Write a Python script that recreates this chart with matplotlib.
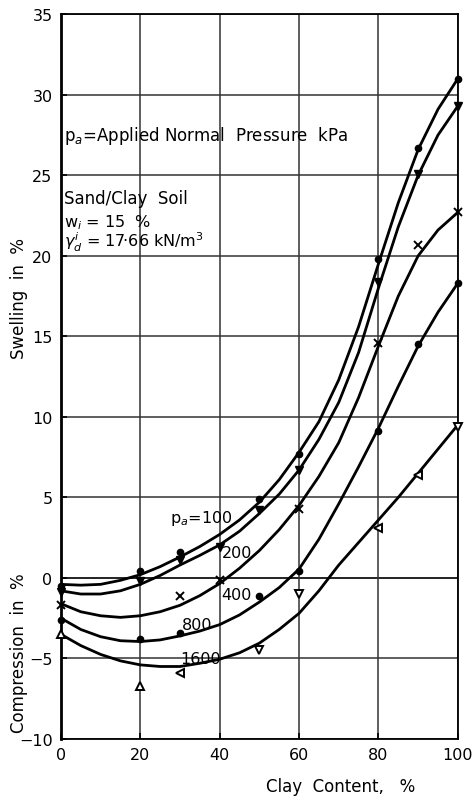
import matplotlib
matplotlib.use("Agg")
import matplotlib.pyplot as plt
from matplotlib.patches import Rectangle

# curve traces (clay content every 5 %)
clay_curve = [0, 5, 10, 15, 20, 25, 30, 35, 40, 45, 50,
              55, 60, 65, 70, 75, 80, 85, 90, 95, 100]
curve_100 = [-0.4, -0.45, -0.4, -0.15, 0.2, 0.7, 1.3, 1.95, 2.7, 3.6, 4.7,
             6.1, 7.8, 9.7, 12.3, 15.6, 19.5, 23.3, 26.6, 29.1, 31.0]
curve_200 = [-0.8, -1.0, -1.0, -0.8, -0.4, 0.15, 0.8, 1.4, 2.05, 2.9, 4.0,
             5.2, 6.7, 8.6, 10.9, 14.0, 18.0, 21.8, 25.0, 27.5, 29.3]
curve_400 = [-1.6, -2.1, -2.35, -2.45, -2.35, -2.1, -1.7, -1.1, -0.35, 0.6, 1.7,
             3.0, 4.5, 6.3, 8.4, 11.2, 14.4, 17.5, 20.0, 21.6, 22.7]
curve_800 = [-2.5, -3.2, -3.65, -3.9, -3.95, -3.85, -3.6, -3.3, -2.9, -2.3, -1.5,
             -0.6, 0.55, 2.4, 4.6, 6.9, 9.3, 11.9, 14.4, 16.5, 18.3]
curve_1600 = [-3.5, -4.2, -4.75, -5.15, -5.4, -5.5, -5.5, -5.3, -5.05, -4.65, -4.05,
              -3.2, -2.2, -0.8, 0.8, 2.2, 3.6, 5.0, 6.5, 8.0, 9.5]

# measured points
x_100 = [0, 20, 30, 50, 60, 80, 90, 100]
y_100 = [-0.5, 0.4, 1.6, 4.9, 7.7, 19.8, 26.7, 31.0]
x_200 = [0, 20, 30, 40, 50, 60, 80, 90, 100]
y_200 = [-0.9, -0.2, 1.1, 1.9, 4.2, 6.7, 18.4, 25.1, 29.3]
x_400 = [0, 30, 40, 60, 80, 90, 100]
y_400 = [-1.7, -1.1, -0.1, 4.3, 14.6, 20.7, 22.7]
x_800 = [0, 20, 30, 50, 60, 80, 90, 100]
y_800 = [-2.6, -3.8, -3.4, -1.1, 0.4, 9.1, 14.5, 18.3]
x_1600 = [0, 20, 30, 50, 60, 80, 90, 100]
y_1600 = [-3.5, -6.7, -5.9, -4.5, -1.0, 3.1, 6.4, 9.4]
marks_1600 = ["^", "^", "<", "v", "v", "<", "<", "v"]

x_ticks = [0, 20, 40, 60, 80, 100]
y_ticks = [-10, -5, 0, 5, 10, 15, 20, 25, 30, 35]

plt.rcParams["font.family"] = "DejaVu Sans"

fig = plt.figure(figsize=(4.72, 8.03), dpi=100)
ax = fig.add_axes([0.129, 0.0785, 0.841, 0.9025])

ax.set_xlim(0, 100)
ax.set_ylim(-10, 35)
ax.set_xticks(x_ticks)
ax.set_yticks(y_ticks)
ax.tick_params(direction="in", length=4, width=1.2, labelsize=11.5, pad=6)
ax.grid(True, color="#333333", linewidth=1.1, zorder=0)
for s in ax.spines.values():
    s.set_linewidth(1.3)
ax.spines["left"].set_linewidth(2.0)
ax.axhline(0, color="black", linewidth=1.4, zorder=1)

# blank grid cells behind the notes
ax.add_patch(Rectangle((0.4, 25.25), 78.9, 4.5, facecolor="white",
                       edgecolor="none", zorder=1))
ax.add_patch(Rectangle((0.4, 20.25), 39.0, 4.5, facecolor="white",
                       edgecolor="none", zorder=1))

lw = 2.0
for ys in [curve_100, curve_200, curve_400, curve_800, curve_1600]:
    ax.plot(clay_curve, ys, color="black", linewidth=lw, zorder=3,
            solid_capstyle="round", solid_joinstyle="round")

ax.plot(x_100, y_100, "o", color="black", markersize=4.5, zorder=4, clip_on=False)
ax.plot(x_200, y_200, "v", color="black", markersize=5.5, zorder=4, clip_on=False)
ax.plot(x_400, y_400, "x", color="black", markersize=6, markeredgewidth=1.4,
        zorder=4, clip_on=False)
ax.plot(x_800, y_800, "o", color="black", markersize=4.5, zorder=4, clip_on=False)
for xv, yv, m in zip(x_1600, y_1600, marks_1600):
    ax.plot(xv, yv, m, markerfacecolor="white", markeredgecolor="black",
            markeredgewidth=1.4, markersize=5.5, zorder=4, clip_on=False)

# curve labels
ax.text(27.5, 3.5, "p$_a$=100", fontsize=11.5, zorder=5)
ax.text(40.5, 1.3, "200", fontsize=11.5, zorder=5)
ax.text(40.5, -1.3, "400", fontsize=11.5, zorder=5)
ax.text(30.5, -3.2, "800", fontsize=11.5, zorder=5)
ax.text(30.0, -5.3, "1600", fontsize=11.5, zorder=5)

# notes
ax.text(0.8, 27.5, "p$_a$=Applied Normal  Pressure  kPa", fontsize=12,
        va="center", zorder=5)
ax.text(0.8, 23.6, "Sand/Clay  Soil", fontsize=12, va="center", zorder=5)
ax.text(0.8, 22.1, "w$_i$ = 15  %", fontsize=11.5, va="center", zorder=5)
ax.text(0.8, 20.9, r"$\gamma_d^i$ = 17·66 kN/m$^3$", fontsize=11.5,
        va="center", zorder=5)

# axis labels
ax.text(-0.105, 17.4, "Swelling  in  %", transform=ax.get_yaxis_transform(),
        rotation=90, fontsize=12, ha="center", va="center")
ax.text(-0.105, -4.6, "Compression  in  %", transform=ax.get_yaxis_transform(),
        rotation=90, fontsize=12, ha="center", va="center")
ax.text(70.5, -0.065, "Clay  Content,   %", transform=ax.get_xaxis_transform(),
        fontsize=12, ha="center", va="center")

fig.savefig("out.png", dpi=100)
